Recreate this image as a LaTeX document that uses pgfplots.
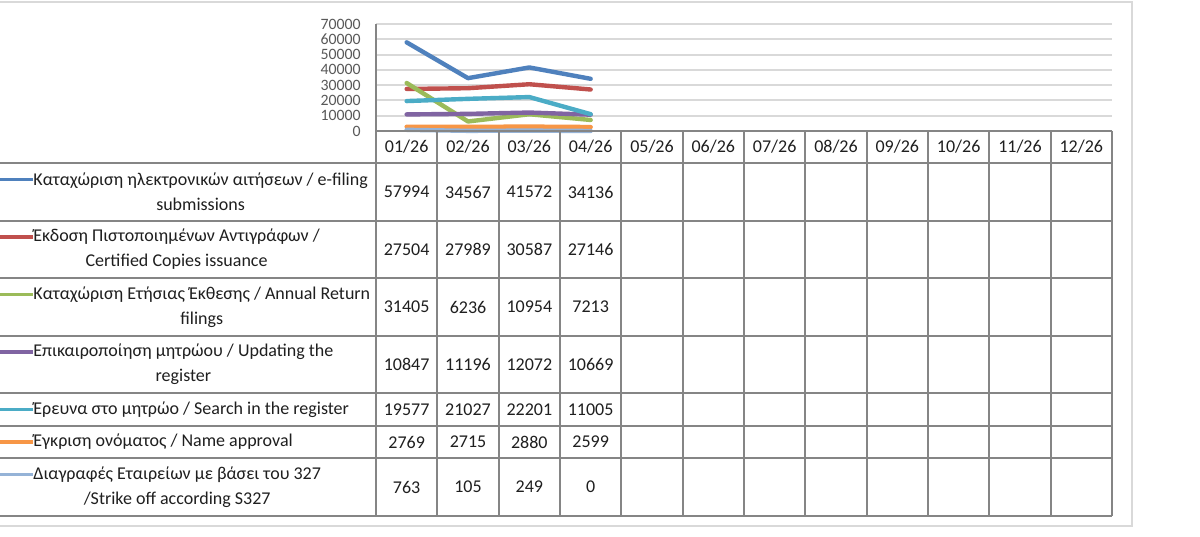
\documentclass[border=0pt]{standalone}
\usepackage{pgfplots}
\usepackage{pgfplotstable}
\pgfplotsset{compat=1.18}
\usepackage{fontspec}
\setmainfont{Carlito}
\definecolor{sA}{HTML}{4F81BD}
\definecolor{sB}{HTML}{C0504D}
\definecolor{sC}{HTML}{9BBB59}
\definecolor{sD}{HTML}{8064A2}
\definecolor{sE}{HTML}{4BACC6}
\definecolor{sF}{HTML}{F79646}
\definecolor{sG}{HTML}{95B3D7}
\definecolor{gridgray}{HTML}{D9D9D9}
\definecolor{tabgray}{HTML}{858585}
\definecolor{tickgray}{HTML}{595959}
\definecolor{txt}{HTML}{1F1F1F}
\definecolor{frame}{HTML}{D9D9D9}

\pgfplotstableread{
x   a     b     c     d     e     f    g
0.5 57994 27504 31405 10847 19577 2769 763
1.5 34567 27989 6236  11196 21027 2715 105
2.5 41572 30587 10954 12072 22201 2880 249
3.5 34136 27146 7213  10669 11005 2599 0
}\datatable

\begin{document}
\begin{tikzpicture}
\useasboundingbox (0,0) rectangle (600pt,268pt);
\fill[white] (0,0) rectangle (600pt,268pt);
\begin{axis}[
  at={(188pt,202.5pt)}, anchor=south west,
  scale only axis, width=368pt, height=53.5pt,
  xmin=0, xmax=12, ymin=0, ymax=70000,
  axis line style={draw=none},
  xtick=\empty,
  ytick={0,10000,...,70000},
  ymajorgrids, grid style={draw=gridgray, line width=1pt},
  major tick length=0pt,
  scaled y ticks=false,
  yticklabel style={font=\fontsize{7.9}{8}\selectfont, text=tickgray, inner sep=0pt, xshift=-7.5pt,
    /pgf/number format/1000 sep={}, /pgf/number format/assume math mode=true},
  clip=false,
  every axis plot/.append style={line width=2.2pt, line join=round, line cap=round, mark=none},
]
\addplot[sA] table[x=x, y=a] {\datatable};
\addplot[sB] table[x=x, y=b] {\datatable};
\addplot[sC] table[x=x, y=c] {\datatable};
\addplot[sD] table[x=x, y=d] {\datatable};
\addplot[sE] table[x=x, y=e] {\datatable};
\addplot[sF] table[x=x, y=f] {\datatable};
\addplot[sG] table[x=x, y=g] {\datatable};
\end{axis}

\begin{scope}[x=0.5pt, y=-0.5pt, yshift=268pt]
  % outer frame
  \draw[frame, line width=0.8pt] (-10,2) -- (1132,2) -- (1132,526) -- (-10,526);
  % axis vertical line
  \draw[tabgray, line width=0.9pt] (376,24) -- (376,131);
  % table lines
  \draw[tabgray, line width=1.1pt] (376,131) -- (1112,131);
  \foreach \yy in {163,221,278,336,393} \draw[tabgray, line width=0.9pt] (0,\yy) -- (1112,\yy);
  \foreach \yy in {426,458,516} \draw[tabgray, line width=1.2pt] (0,\yy) -- (1112,\yy);
  \foreach \k in {0,...,12} \draw[tabgray, line width=0.9pt] ({376+61.333*\k},131) -- ({376+61.333*\k},516);
  % month headers
  \foreach \k/\m in {0/01,1/02,2/03,3/04,4/05,5/06,6/07,7/08,8/09,9/10,10/11,11/12}
    \node[text=txt, font=\fontsize{9}{10}\selectfont] at ({406.67+61.333*\k},147) {\m/26};
  % values
  \foreach \col/\yc in {a/192,b/249.5,c/307,d/364.5,e/409.5,f/442,g/487} {
    \foreach \i in {0,...,3} {
      \pgfplotstablegetelem{\i}{\col}\of\datatable
      \node[text=txt, font=\fontsize{9}{10}\selectfont] at ({406.67+61.333*\i},\yc) {\pgfplotsretval};
    }
  }
  % legend keys
  \foreach \c/\yk in {sA/179.5, sB/237, sC/294.5, sD/352, sE/409.5, sF/442, sG/474.5}
    \draw[\c, line width=1.8pt] (0,\yk) -- (33,\yk);
  % labels
  \tikzset{lab/.style={anchor=west, align=center, inner sep=0pt, text=txt, font=\fontsize{9}{12.5}\selectfont}}
  \node[lab] at (33,192) {Καταχώριση ηλεκτρονικών αιτήσεων / e-filing\\submissions};
  \node[lab] at (33,249.5) {Έκδοση Πιστοποιημένων Αντιγράφων /\\Certified Copies issuance};
  \node[lab] at (33,307) {Καταχώριση Ετήσιας Έκθεσης / Annual Return\\filings};
  \node[lab] at (33,364.5) {Επικαιροποίηση μητρώου / Updating the\\register};
  \node[lab] at (33,409.5) {Έρευνα στο μητρώο / Search in the register};
  \node[lab] at (33,442) {Έγκριση ονόματος / Name approval};
  \node[lab] at (33,487) {Διαγραφές Εταιρείων με βάσει του 327\\/Strike off according S327};
\end{scope}
\end{tikzpicture}
\end{document}
